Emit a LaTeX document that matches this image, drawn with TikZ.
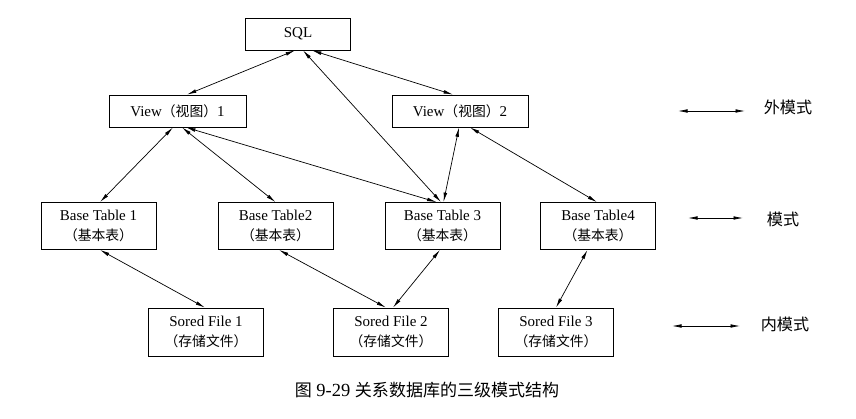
\documentclass[tikz,border=0pt]{standalone}
\usepackage{fontspec}
\setmainfont{Liberation Serif}
\newfontfamily\cjk[Scale=0.92]{Noto Sans CJK SC}
\usetikzlibrary{arrows.meta}

\begin{document}
\begin{tikzpicture}[x=1pt,y=-1pt,>={Latex[length=9.5pt,width=3.6pt]},
    block/.style={draw=black, line width=0.8pt, align=center, inner sep=0pt, minimum width=115pt, minimum height=47pt, font=\fontsize{15}{20}\selectfont},
    wide/.style={block, minimum height=32pt},
    arrow/.style={<->, line width=0.7pt},
    level/.style={font=\fontsize{17.5}{20}\selectfont}
  ]
    \useasboundingbox (0,0) rectangle (856,419);
    % top levels
    \node[wide, minimum width=105pt] (sql) at (298,34) {SQL};
    \node[wide, minimum width=137pt] (view1) at (177.5,111) {View{\cjk（视图）}1};
    \node[wide, minimum width=136pt] (view2) at (460,111) {View{\cjk（视图）}2};
    % base tables
    \node[block] (base1) at (98.5,226) {Base Table 1\\{\cjk（基本表）}};
    \node[block] (base2) at (275.5,226) {Base Table2\\{\cjk（基本表）}};
    \node[block] (base3) at (442.5,226) {Base Table 3\\{\cjk（基本表）}};
    \node[block] (base4) at (598,226) {Base Table4\\{\cjk（基本表）}};
    % stored files
    \node[block, minimum height=48pt] (file1) at (206,332) {Sored File 1\\{\cjk（存储文件）}};
    \node[block, minimum height=48pt] (file2) at (391,332) {Sored File 2\\{\cjk（存储文件）}};
    \node[block, minimum height=48pt] (file3) at (556,332) {Sored File 3\\{\cjk（存储文件）}};

    \draw[arrow] ([xshift=-3pt]sql.south) -- ([xshift=9.5pt]view1.north);
    \draw[arrow] ([xshift=14pt]sql.south) -- ([xshift=-7pt]view2.north);
    \draw[arrow] ([xshift=5pt]sql.south) -- ([xshift=-1.5pt]base3.north);
    \draw[arrow] ([xshift=-4.5pt]view1.south) -- ([xshift=1.5pt]base1.north);
    \draw[arrow] ([xshift=4.5pt]view1.south) -- ([xshift=0pt]base2.north);
    \draw[arrow] ([xshift=8.5pt]view1.south) -- ([xshift=-6pt]base3.north);
    \draw[arrow] ([xshift=-1pt]view2.south) -- ([xshift=1pt]base3.north);
    \draw[arrow] ([xshift=10pt]view2.south) -- ([xshift=-1pt]base4.north);
    \draw[arrow] ([xshift=1.5pt]base1.south) -- ([xshift=-1pt]file1.north);
    \draw[arrow] ([xshift=3.5pt]base2.south) -- ([xshift=-5pt]file2.north);
    \draw[arrow] ([xshift=-2.5pt]base3.south) -- ([xshift=2pt]file2.north);
    \draw[arrow] ([xshift=-10.5pt]base4.south) -- ([xshift=0pt]file3.north);

    % legend
    \coordinate (ext1) at (678,111);
    \coordinate (ext2) at (745,111);
    \coordinate (con1) at (688,218);
    \coordinate (con2) at (743,218);
    \coordinate (int1) at (672,326);
    \coordinate (int2) at (740,326);
    \draw[arrow] (ext1) -- (ext2);
    \draw[arrow] (con1) -- (con2);
    \draw[arrow] (int1) -- (int2);
    \node[level] (external) at (788,107) {\cjk 外模式};
    \node[level] (conceptual) at (783,219) {\cjk 模式};
    \node[level] (internal) at (785,324) {\cjk 内模式};

    \node[font=\fontsize{18.5}{20}\selectfont] (caption) at (427,390) {{\cjk 图} 9-29 {\cjk 关系数据库的三级模式结构}};
  \end{tikzpicture}
\end{document}
